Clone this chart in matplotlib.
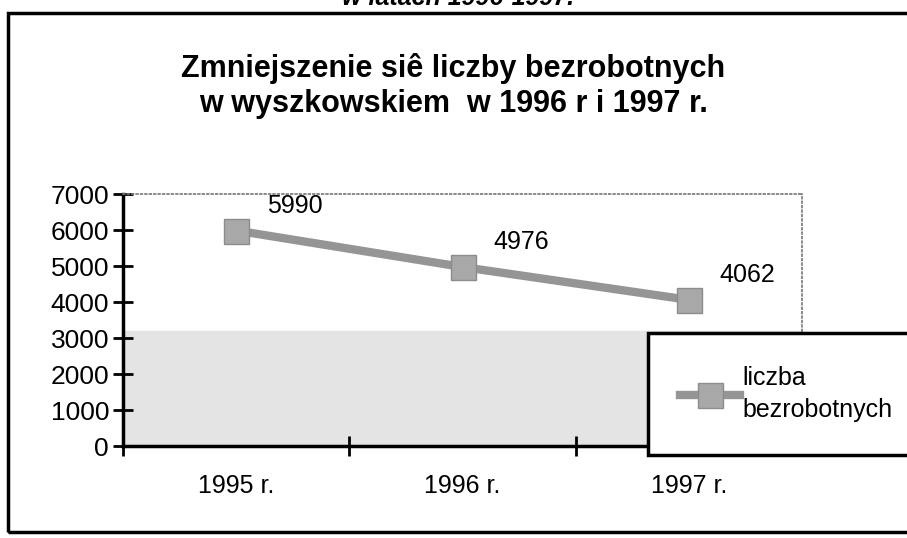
import matplotlib.pyplot as plt
from matplotlib.patches import Rectangle

plt.rcParams['font.family'] = ['Liberation Sans', 'DejaVu Sans']

# Data
years = ['1995 r.', '1996 r.', '1997 r.']
unemployed = [5990, 4976, 4062]
y_ticks = [0, 1000, 2000, 3000, 4000, 5000, 6000, 7000]

fig = plt.figure(figsize=(9.07, 5.38), dpi=100)
ax = fig.add_axes([0.1356, 0.171, 0.749, 0.468])

x = range(len(years))
line, = ax.plot(x, unemployed, color='#959595', linewidth=6, marker='s',
                markersize=18, markerfacecolor='#a8a8a8', markeredgecolor='#8c8c8c',
                label='liczba\nbezrobotnych', zorder=3)

# value labels
for xi, v in zip(x, unemployed):
    ax.annotate(str(v), (xi, v), xytext=(42, 18), textcoords='offset points',
                ha='center', va='center', fontsize=18)

# scanned-in grey dot pattern in the lower part of the plot area
ax.axhspan(0, 3200, color='#e4e4e4', zorder=0)

ax.set_xlim(-0.5, 2.5)
ax.set_ylim(0, 7000)
ax.set_yticks(y_ticks)
ax.tick_params(axis='y', direction='inout', length=14, width=2, labelsize=19, pad=3)
ax.set_xticks([-0.5, 0.5, 1.5, 2.5])
ax.set_xticklabels([])
ax.set_xticks(list(x), minor=True)
ax.set_xticklabels(years, minor=True, fontsize=18)
ax.tick_params(axis='x', which='major', direction='inout', length=14, width=2)
ax.tick_params(axis='x', which='minor', length=0, pad=20)

for s in ['left', 'bottom']:
    ax.spines[s].set_linewidth(2.5)
for s in ['top', 'right']:
    ax.spines[s].set_linestyle(':')
    ax.spines[s].set_color('#777777')
    ax.spines[s].set_linewidth(1.2)

leg = fig.legend(handles=[line], loc='upper left', bbox_to_anchor=(0.714, 0.381),
                 fontsize=18, frameon=True, fancybox=False, handlelength=2.4,
                 borderpad=1.3, labelspacing=0.2, handletextpad=0.1,
                 borderaxespad=0)
leg.get_frame().set_edgecolor('black')
leg.get_frame().set_linewidth(2.5)
leg.get_frame().set_alpha(1)
for t in leg.get_texts():
    t.set_linespacing(1.45)

fig.text(0.5, 0.84, 'Zmniejszenie siê liczby bezrobotnych\nw wyszkowskiem  w 1996 r i 1997 r.',
         ha='center', va='center', fontsize=22, fontweight='bold', linespacing=1.2)
fig.text(0.505, 0.982, 'w latach 1996-1997.', ha='center', va='bottom',
         fontsize=18, fontweight='bold', fontstyle='italic')

# outer frame of the scanned chart
fig.patches.append(Rectangle((0.009, 0.011), 1.2, 0.965, transform=fig.transFigure,
                             fill=False, edgecolor='black', linewidth=2.5))

fig.savefig('out.png', dpi=100)
